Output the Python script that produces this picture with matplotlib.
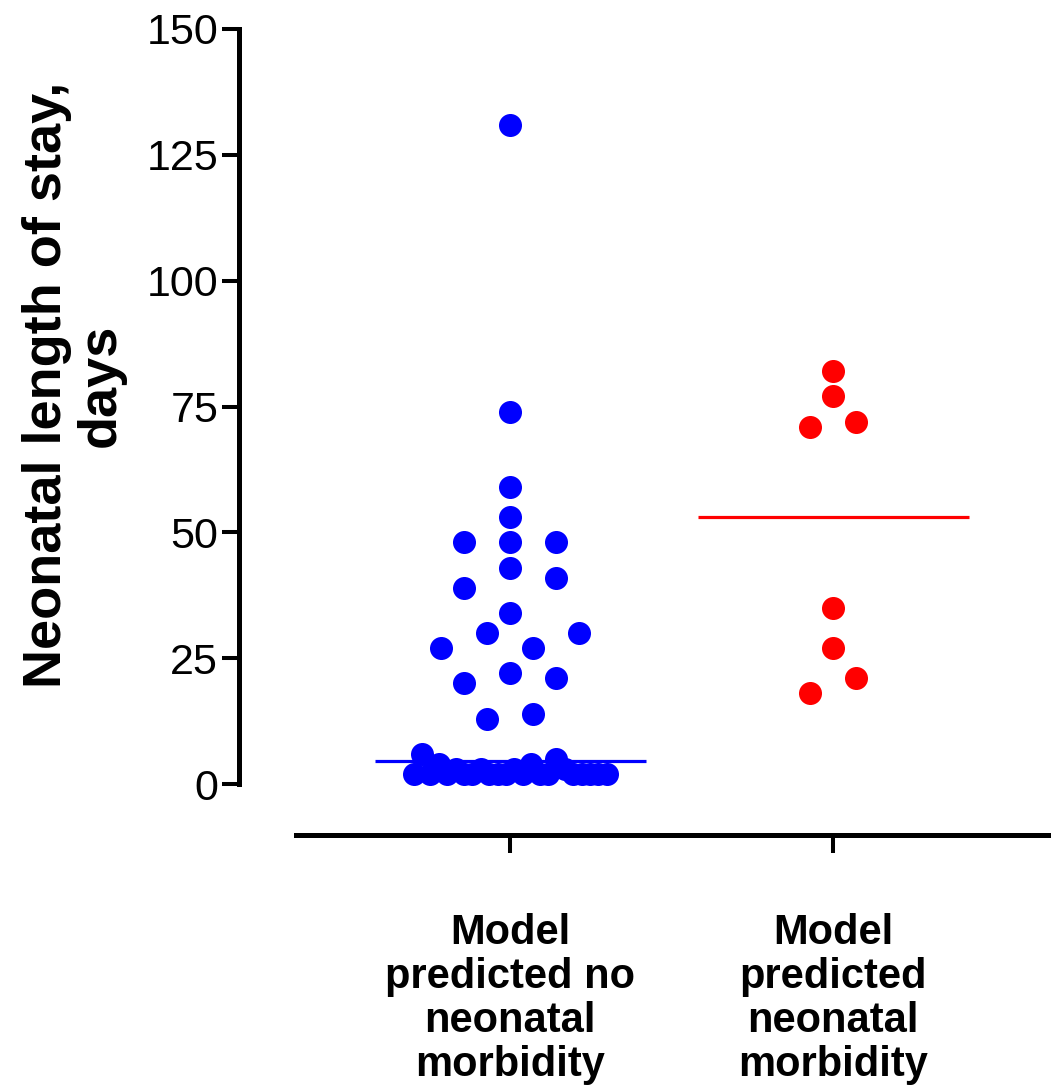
import numpy as np
import matplotlib.pyplot as plt

plt.rcParams['font.family'] = ['Liberation Sans', 'DejaVu Sans']

# data (order inside a row = left-to-right order)
groups = ['Model\npredicted no\nneonatal\nmorbidity',
          'Model\npredicted\nneonatal\nmorbidity']
no_morbidity = [2, 6, 2, 4, 2, 3, 2, 2, 3, 2, 2, 2, 3, 2, 4, 2, 2, 5, 3, 2,
                2, 2, 2, 2, 13, 14, 20, 22, 21, 27, 30, 27, 30, 34, 39, 43,
                41, 48, 48, 48, 53, 59, 74, 131]
morbidity = [18, 21, 27, 35, 71, 72, 77, 82]
colors = ['#0000ff', '#ff0000']
yticks = [0, 25, 50, 75, 100, 125, 150]

dot_px = 23


def scatter_rows(ax, values, x0, diam, max_half=4.2):
    # Prism-style column scatter: group close values into rows,
    # spread each row symmetrically, squeeze rows that get too wide
    values = np.asarray(values, dtype=float)
    tr = ax.transData
    px_x = tr.transform((x0 + 1, 0))[0] - tr.transform((x0, 0))[0]
    px_y = tr.transform((x0, 1))[1] - tr.transform((x0, 0))[1]
    h = diam / px_y
    order = np.argsort(values, kind='stable')
    rows, cur = [], [order[0]]
    for i in order[1:]:
        if values[i] - values[cur[0]] < h:
            cur.append(i)
        else:
            rows.append(cur)
            cur = [i]
    rows.append(cur)
    xs = np.zeros(len(values))
    for row in rows:
        row = sorted(row)
        n = len(row)
        step = 2 * diam if n < 2 else min(2 * diam, 2 * max_half * diam / (n - 1))
        for k, i in enumerate(row):
            xs[i] = x0 + (k - (n - 1) / 2) * step / px_x
    return xs


fig = plt.figure(figsize=(10.53, 10.86), dpi=100)
ax = fig.add_axes([239 / 1053, 302 / 1086, 809 / 1053, 755 / 1086])
ax.set_xlim(-0.84, 1.665)
ax.set_ylim(0, 150)

for i, (vals, c) in enumerate(zip([no_morbidity, morbidity], colors)):
    xs = scatter_rows(ax, vals, i, dot_px)
    ax.scatter(xs, vals, s=275, color=c, linewidths=0, zorder=3, clip_on=False)
    ax.hlines(np.median(vals), i - 0.42, i + 0.42, color=c, lw=2.3, zorder=4)

for s in ['top', 'right']:
    ax.spines[s].set_visible(False)
ax.spines['left'].set_linewidth(3.6)
ax.spines['bottom'].set_linewidth(3.6)
ax.spines['bottom'].set_position(('outward', 37))
ax.spines['bottom'].set_bounds(-0.665, 1.665)

ax.set_yticks(yticks)
ax.set_xticks([0, 1])
ax.set_xticklabels(groups, fontweight='bold', linespacing=1.13)
ax.tick_params(axis='y', length=12, width=2.9, labelsize=31, pad=3)
ax.tick_params(axis='x', length=13, width=2.9, labelsize=30, pad=43)

ax.set_ylabel('Neonatal length of stay,\ndays', fontsize=39,
              fontweight='bold', linespacing=1.1)
ax.yaxis.set_label_coords(-0.14, 0.528)

fig.savefig('out.png', dpi=100)
